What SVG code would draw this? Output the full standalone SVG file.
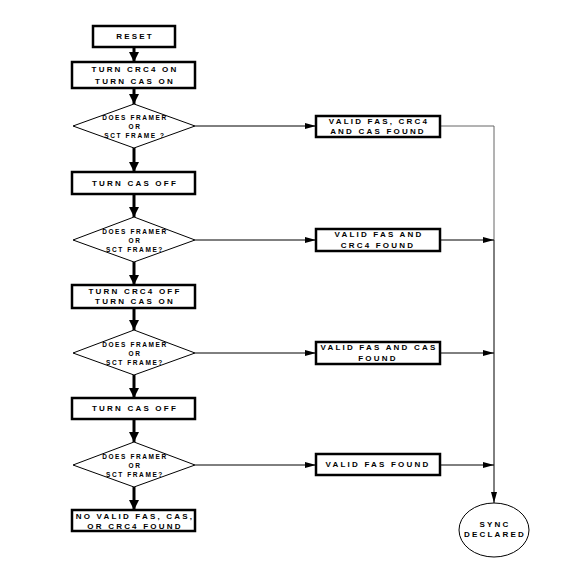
<svg xmlns="http://www.w3.org/2000/svg" width="569" height="579" viewBox="0 0 569 579">
<style>
.box{fill:#fff;stroke:#000;stroke-width:2.5}
.dia{fill:#fff;stroke:#000;stroke-width:1}
.t{font-family:"Liberation Sans",Arial,sans-serif;font-weight:bold;font-size:8px;letter-spacing:2.2px;text-anchor:middle;fill:#000}
.d{font-family:"Liberation Sans",Arial,sans-serif;font-weight:bold;font-size:6.5px;letter-spacing:1.6px;text-anchor:middle;fill:#000}
.main{stroke:#000;stroke-width:3;fill:none}
.thin{stroke:#000;stroke-width:1;fill:none}
.grey{stroke:#666;stroke-width:1;fill:none}
</style>
<defs>
<marker id="big" markerUnits="userSpaceOnUse" markerWidth="12" markerHeight="12" refX="10" refY="5" orient="auto"><path d="M0,0 L10,5 L0,10 Z" fill="#000"/></marker>
<marker id="sm" markerUnits="userSpaceOnUse" markerWidth="12" markerHeight="8" refX="11" refY="3" orient="auto"><path d="M0,0 L11,3 L0,6 Z" fill="#000"/></marker>
</defs>
<rect width="569" height="579" fill="#fff"/>
<g id="connectors">
<line class="main" x1="134" y1="47" x2="134" y2="62" marker-end="url(#big)"/>
<line class="main" x1="134" y1="88" x2="134" y2="104" marker-end="url(#big)"/>
<line class="main" x1="134" y1="148" x2="134" y2="172" marker-end="url(#big)"/>
<line class="main" x1="134" y1="194" x2="134" y2="217" marker-end="url(#big)"/>
<line class="main" x1="134" y1="262" x2="134" y2="285" marker-end="url(#big)"/>
<line class="main" x1="134" y1="308" x2="134" y2="330" marker-end="url(#big)"/>
<line class="main" x1="134" y1="375" x2="134" y2="398" marker-end="url(#big)"/>
<line class="main" x1="134" y1="419" x2="134" y2="442" marker-end="url(#big)"/>
<line class="main" x1="134" y1="487" x2="134" y2="510" marker-end="url(#big)"/>
<line class="thin" x1="195" y1="126" x2="316" y2="126" marker-end="url(#sm)"/>
<line class="thin" x1="195" y1="240" x2="316" y2="240" marker-end="url(#sm)"/>
<line class="thin" x1="195" y1="353" x2="316" y2="353" marker-end="url(#sm)"/>
<line class="thin" x1="195" y1="465" x2="316" y2="465" marker-end="url(#sm)"/>
<polyline class="grey" points="440,126 494,126 494,240"/>
<line class="thin" x1="494" y1="240" x2="494" y2="503" marker-end="url(#sm)"/>
<line class="thin" x1="440" y1="240" x2="494" y2="240" marker-end="url(#sm)"/>
<line class="thin" x1="440" y1="353" x2="494" y2="353" marker-end="url(#sm)"/>
<line class="thin" x1="440" y1="465" x2="494" y2="465" marker-end="url(#sm)"/>
</g>
<g id="reset"><rect class="box" x="93" y="26" width="82" height="21"/><text class="t" x="135" y="39">RESET</text></g>
<g id="crc4on"><rect class="box" x="72" y="62" width="123" height="26"/><text class="t" x="135" y="72">TURN CRC4 ON</text><text class="t" x="135" y="84">TURN CAS ON</text></g>
<g id="dec1"><polygon class="dia" points="134,104 195,126 134,148 73,126"/><text class="d" x="135" y="120">DOES FRAMER</text><text class="d" x="135" y="129">OR</text><text class="d" x="135" y="138">SCT FRAME ?</text></g>
<g id="found1"><rect class="box" x="316" y="116" width="124" height="21"/><text class="t" x="379" y="124">VALID FAS, CRC4</text><text class="t" x="378" y="134">AND CAS FOUND</text></g>
<g id="casoff1"><rect class="box" x="72" y="172" width="123" height="22"/><text class="t" x="135" y="186">TURN CAS OFF</text></g>
<g id="dec2"><polygon class="dia" points="134,217 195,240 134,262 73,240"/><text class="d" x="135" y="234">DOES FRAMER</text><text class="d" x="135" y="243">OR</text><text class="d" x="135" y="252">SCT FRAME?</text></g>
<g id="found2"><rect class="box" x="316" y="229" width="124" height="22"/><text class="t" x="379" y="237">VALID FAS AND</text><text class="t" x="378" y="248">CRC4 FOUND</text></g>
<g id="crc4off"><rect class="box" x="72" y="285" width="123" height="23"/><text class="t" x="135" y="294">TURN CRC4 OFF</text><text class="t" x="135" y="304">TURN CAS ON</text></g>
<g id="dec3"><polygon class="dia" points="134,330 195,353 134,375 73,353"/><text class="d" x="135" y="347">DOES FRAMER</text><text class="d" x="135" y="356">OR</text><text class="d" x="135" y="365">SCT FRAME?</text></g>
<g id="found3"><rect class="box" x="316" y="342" width="124" height="22"/><text class="t" x="379" y="350">VALID FAS AND CAS</text><text class="t" x="378" y="361">FOUND</text></g>
<g id="casoff2"><rect class="box" x="72" y="398" width="123" height="21"/><text class="t" x="135" y="411">TURN CAS OFF</text></g>
<g id="dec4"><polygon class="dia" points="134,442 195,465 134,487 73,465"/><text class="d" x="135" y="459">DOES FRAMER</text><text class="d" x="135" y="468">OR</text><text class="d" x="135" y="477">SCT FRAME?</text></g>
<g id="found4"><rect class="box" x="316" y="454" width="124" height="21"/><text class="t" x="378" y="467">VALID FAS FOUND</text></g>
<g id="novalid"><rect class="box" x="72" y="510" width="123" height="21"/><text class="t" x="135" y="519">NO VALID FAS, CAS,</text><text class="t" x="135" y="529">OR CRC4 FOUND</text></g>
<g id="sync"><ellipse cx="494" cy="530" rx="35" ry="27" fill="#fff" stroke="#000" stroke-width="1"/><text class="t" x="495" y="527">SYNC</text><text class="t" x="495" y="537">DECLARED</text></g>
</svg>
